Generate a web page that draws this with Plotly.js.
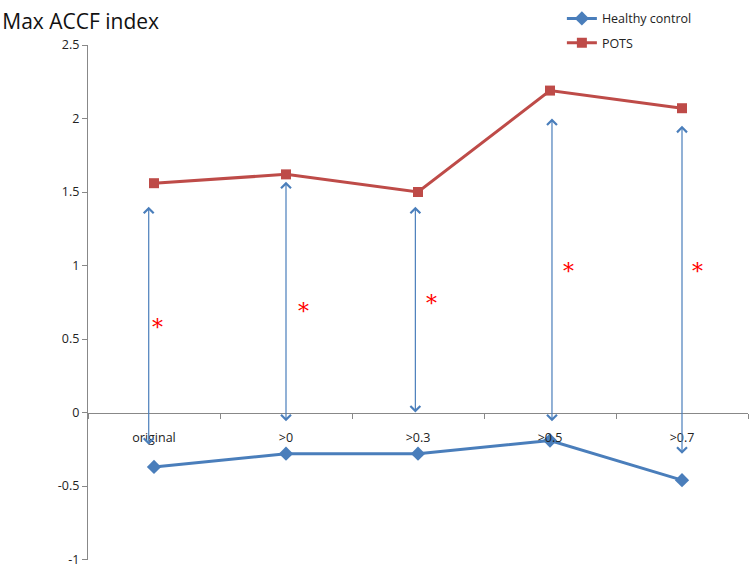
<!DOCTYPE html>
<html>
<head>
<meta charset="utf-8">
<script src="https://cdn.plot.ly/plotly-3.0.1.min.js"></script>
<style>body{margin:0;background:#fff;} #myDiv{width:750px;height:568px;}</style>
</head>
<body>
<div id="myDiv"></div>
<script>
var categories = ['original', '>0', '>0.3', '>0.5', '>0.7'];
var healthy = [-0.37, -0.28, -0.28, -0.19, -0.46];
var pots = [1.56, 1.62, 1.50, 2.19, 2.07];

// double-headed arrows: x offset from category, top and bottom value
var arrowOffset = [-0.04, 0, -0.02, 0.015, 0];
var arrowTop = [1.4, 1.57, 1.4, 2.0, 1.95];
var arrowBottom = [-0.23, -0.07, -0.01, -0.07, -0.29];

// significance stars
var starOffset = [0.03, 0.13, 0.1, 0.14, 0.12];
var starY = [0.58, 0.69, 0.74, 0.96, 0.96];

var yTicks = [-1, -0.5, 0, 0.5, 1, 1.5, 2, 2.5];

var trace1 = {
    x: categories,
    y: healthy,
    mode: 'lines+markers',
    name: 'Healthy control',
    legendgroup: 'a',
    line: {color: '#4A7EBB', width: 3},
    marker: {symbol: 'diamond', size: 11, color: '#4A7EBB'}
};

var trace2 = {
    x: categories,
    y: pots,
    mode: 'lines+markers',
    name: 'POTS',
    legendgroup: 'b',
    line: {color: '#BE4B48', width: 3},
    marker: {symbol: 'square', size: 10, color: '#BE4B48'}
};

var annotations = [];
for (var i = 0; i < categories.length; i++) {
    annotations.push({
        xref: 'x', yref: 'y', axref: 'x', ayref: 'y',
        x: i + arrowOffset[i], y: arrowTop[i],
        ax: i + arrowOffset[i], ay: arrowBottom[i],
        showarrow: true, arrowside: 'end+start',
        arrowhead: 4, startarrowhead: 4,
        arrowsize: 1.6, startarrowsize: 1.6,
        arrowwidth: 1.2, arrowcolor: '#4A7EBB', text: ''
    });
    annotations.push({
        xref: 'x', yref: 'y',
        x: i + starOffset[i], y: starY[i],
        text: '*', showarrow: false,
        font: {color: '#FF0000', size: 22, family: 'DejaVu Serif'}
    });
}

var layout = {
    width: 750,
    height: 568,
    margin: {l: 88, r: 2, t: 45, b: 8},
    paper_bgcolor: '#fff',
    plot_bgcolor: '#fff',
    font: {family: 'Open Sans, sans-serif', size: 12, color: '#222'},
    title: {
        text: 'Max ACCF index',
        x: 0.003, xanchor: 'left', xref: 'container',
        y: 0.975, yanchor: 'top',
        font: {size: 21, color: '#111'}
    },
    xaxis: {
        type: 'category',
        range: [-0.5, 4.5],
        anchor: 'free',
        position: 1 / 3.5,
        showline: true,
        linecolor: '#888',
        linewidth: 1.3,
        ticks: 'outside',
        tickson: 'boundaries',
        ticklen: 5,
        tickcolor: '#888',
        ticklabelstandoff: 13,
        showgrid: false,
        zeroline: false,
        tickfont: {size: 12.5, color: '#222'}
    },
    yaxis: {
        range: [-1.003, 2.5],
        tickmode: 'array',
        tickvals: yTicks,
        ticktext: yTicks.map(String),
        showline: true,
        linecolor: '#888',
        linewidth: 1.3,
        ticks: 'outside',
        ticklen: 5,
        tickcolor: '#888',
        showgrid: false,
        zeroline: false,
        tickfont: {size: 12.5, color: '#222'}
    },
    showlegend: true,
    legend: {
        x: 0.718, xanchor: 'left',
        y: 1.08, yanchor: 'top',
        tracegroupgap: 5,
        font: {size: 12.5, color: '#222'},
        bgcolor: 'rgba(0,0,0,0)'
    },
    annotations: annotations
};

Plotly.newPlot('myDiv', [trace1, trace2], layout, {displayModeBar: false});
</script>
</body>
</html>
